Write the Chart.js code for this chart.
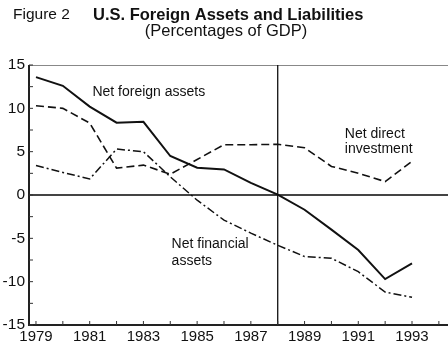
<!DOCTYPE html>
<html><head><meta charset="utf-8">
<script src="https://cdn.jsdelivr.net/npm/chart.js@4/dist/chart.umd.min.js"></script>
<style>html,body{margin:0;padding:0;background:#fff}#wrap{width:448px;height:349px;position:relative}</style>
</head><body><div id="wrap"><canvas id="c"></canvas></div>
<script>
const years = [1979,1980,1981,1982,1983,1984,1985,1986,1987,1988,1989,1990,1991,1992,1993];
const netForeignAssets = [13.6,12.6,10.2,8.35,8.45,4.5,3.15,2.95,1.4,0.05,-1.7,-4.0,-6.35,-9.7,-7.9];
const netDirectInvestment = [10.3,10.0,8.3,3.1,3.45,2.4,4.1,5.8,5.8,5.85,5.45,3.3,2.5,1.55,3.9];
const netFinancialAssets = [3.4,2.6,1.85,5.3,5.0,2.1,-0.6,-2.9,-4.4,-5.8,-7.1,-7.3,-8.85,-11.2,-11.8];
const xTickLabels = ['1979','1981','1983','1985','1987','1989','1991','1993'];
const yTickValues = [-15,-10,-5,0,5,10,15];
const titleFigure = 'Figure 2';
const titleMain = 'U.S. Foreign Assets and Liabilities';
const titleSub = '(Percentages of GDP)';
const seriesLabels = ['Net foreign assets', 'Net direct investment', 'Net financial assets'];

const pts = arr => years.map((y,i)=>({x:y,y:arr[i]}));
const FONT = '"Liberation Sans", Arial, Helvetica, sans-serif';

const decor = {
  id:'decor',
  beforeDatasetsDraw(chart){
    const {ctx, chartArea:a, scales:{x,y}} = chart;
    ctx.save();
    ctx.strokeStyle='#888'; ctx.lineWidth=1;
    ctx.beginPath(); ctx.moveTo(a.left,a.top+0.5); ctx.lineTo(a.right,a.top+0.5); ctx.stroke();
    ctx.strokeStyle='#444'; ctx.lineWidth=2;
    const y0=y.getPixelForValue(0);
    ctx.beginPath(); ctx.moveTo(a.left,y0); ctx.lineTo(a.right,y0); ctx.stroke();
    ctx.strokeStyle='#111'; ctx.lineWidth=1.3;
    const xv=x.getPixelForValue(1988);
    ctx.beginPath(); ctx.moveTo(xv,a.top); ctx.lineTo(xv,a.bottom); ctx.stroke();
    ctx.strokeStyle='#222'; ctx.lineWidth=2;
    ctx.beginPath(); ctx.moveTo(a.left,a.top); ctx.lineTo(a.left,a.bottom); ctx.lineTo(a.right,a.bottom); ctx.stroke();
    ctx.lineWidth=1; ctx.strokeStyle='#333';
    for(let yr=1979; yr<=1994; yr++){
      const px=x.getPixelForValue(yr);
      ctx.beginPath(); ctx.moveTo(px,a.bottom); ctx.lineTo(px,a.bottom-4); ctx.stroke();
    }
    for(let v=-15; v<=15; v+=2.5){
      const py=y.getPixelForValue(v);
      ctx.beginPath(); ctx.moveTo(a.left,py); ctx.lineTo(a.left+4,py); ctx.stroke();
    }
    ctx.restore();
  },
  afterDraw(chart){
    const {ctx, scales:{x,y}} = chart;
    ctx.save();
    ctx.fillStyle='#111';
    ctx.textBaseline='middle';
    ctx.font='15.5px '+FONT; ctx.textAlign='left';
    ctx.fillText(titleFigure, 13, 15);
    ctx.font='bold 16.5px '+FONT;
    ctx.fillText(titleMain, 93, 15);
    ctx.font='16.5px '+FONT; ctx.textAlign='center';
    ctx.fillText(titleSub, 226, 31);
    ctx.font='14px '+FONT; ctx.textAlign='left';
    ctx.fillText(seriesLabels[0], x.getPixelForValue(1981.1), y.getPixelForValue(11.9));
    ctx.fillText('Net direct', x.getPixelForValue(1990.5), y.getPixelForValue(7.05));
    ctx.fillText('investment', x.getPixelForValue(1990.5), y.getPixelForValue(5.3));
    ctx.fillText('Net financial', x.getPixelForValue(1984.05), y.getPixelForValue(-5.65));
    ctx.fillText('assets', x.getPixelForValue(1984.05), y.getPixelForValue(-7.6));
    ctx.restore();
  }
};

new Chart(document.getElementById('c'), {
  type:'line',
  data:{datasets:[
    {label:seriesLabels[0], data:pts(netForeignAssets), borderColor:'#111', borderWidth:2, pointRadius:0, tension:0},
    {label:seriesLabels[1], data:pts(netDirectInvestment), borderColor:'#111', borderWidth:1.6, borderDash:[8,4], pointRadius:0, tension:0},
    {label:seriesLabels[2], data:pts(netFinancialAssets), borderColor:'#111', borderWidth:1.5, borderDash:[8,3,2,3], pointRadius:0, tension:0}
  ]},
  plugins:[decor],
  options:{
    responsive:true, maintainAspectRatio:false, animation:false,
    layout:{padding:{top:65,right:0,left:0,bottom:0}},
    plugins:{legend:{display:false}, tooltip:{enabled:false}, title:{display:false}},
    scales:{
      x:{type:'linear', min:1978.74, max:1994.34,
         afterBuildTicks(s){ s.ticks = xTickLabels.map(t=>({value:+t})); },
         afterFit(s){ s.height=24; },
         grid:{display:false, drawTicks:false}, border:{display:false},
         ticks:{padding:3, color:'#111', font:{family:FONT,size:15}, maxRotation:0, autoSkip:false, callback:v=>String(v)}},
      y:{min:-15, max:15,
         afterBuildTicks(s){ s.ticks = yTickValues.map(v=>({value:v})); },
         afterFit(s){ s.width=29; },
         grid:{display:false, drawTicks:false}, border:{display:false},
         ticks:{padding:4, color:'#111', font:{family:FONT,size:15.5}}}
    }
  }
});
</script></body></html>
